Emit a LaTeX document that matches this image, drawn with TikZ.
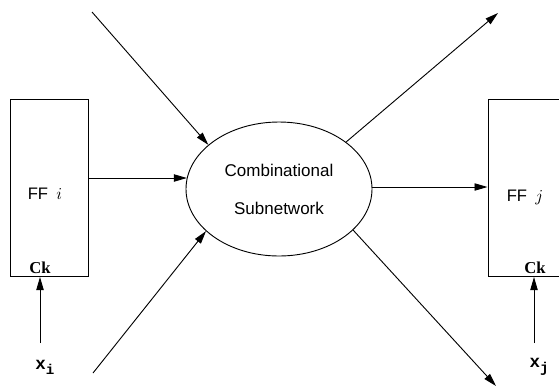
\documentclass[tikz,border=0pt]{standalone}
\usepackage{fontspec}
\setmainfont{Liberation Serif}
\setsansfont{Liberation Sans}
\setmonofont{Liberation Mono}
\usetikzlibrary{arrows.meta,shapes.geometric}
\newcommand{\insub}[1]{\raisebox{-3pt}{\fontsize{8.5}{9}\selectfont #1}}
\tikzset{
  arr/.style={-{Triangle[length=7.8pt,width=4.4pt]}, line width=0.55pt},
  ffbox/.style={draw, line width=0.6pt, minimum width=46.8pt, minimum height=106.2pt, inner sep=0pt},
  fflabel/.style={font=\fontsize{10}{12}\selectfont\sffamily, inner sep=0pt},
  cklabel/.style={font=\fontsize{10}{12}\selectfont\bfseries, inner sep=0pt, anchor=base},
  inlabel/.style={font=\fontsize{10.5}{12}\selectfont\ttfamily\bfseries, inner sep=0pt}
}
\begin{document}
\begin{tikzpicture}[x=0.6pt, y=-0.6pt]
			%%%%% FRAME %%%%%
			\clip (0, 0) rectangle (559, 386);
			
			%%%%% FLIP-FLOPS %%%%%
			\node[ffbox] (ffi) at (49, 187.5) {};
			\node[fflabel] (ffitext) at (45, 194) {FF\enspace$i$};
			\node[cklabel] (cki) at (40, 273) {Ck};
			
			\node[ffbox] (ffj) at (527, 188) {};
			\node[fflabel] (ffjtext) at (525, 197) {FF\enspace$j$};
			\node[cklabel] (ckj) at (535, 273) {Ck};
			
			%%%%% SUBNETWORK %%%%%
			\node[draw, ellipse, line width=0.55pt, minimum width=111.6pt, minimum height=80.4pt, inner sep=0pt,
			      align=center, font=\fontsize{10.2}{22.8}\selectfont\sffamily] (comb) at (279, 189)
			      {Combinational\\Subnetwork};
			
			%%%%% CLOCK INPUTS %%%%%
			\node[inlabel] (xi) at (45, 367) {x\insub{i}};
			\node[inlabel] (xj) at (539, 367) {x\insub{j}};
			\coordinate (ckiin) at (40, 343);
			\coordinate (ckjin) at (534, 343);
			\draw[arr] (ckiin) -- (40, 277);
			\draw[arr] (ckjin) -- (534, 277);
			
			%%%%% CONNECTIONS %%%%%
			\draw[arr] (ffi.east |- 0, 178) -- ([xshift=0.8pt]comb.west |- 0, 178);
			\draw[arr] (comb.east |- 0, 187) -- (ffj.west |- 0, 187);
			
			\coordinate (intop) at (92, 12);
			\coordinate (inbot) at (93, 373);
			\coordinate (outtop) at (498, 13);
			\coordinate (outbot) at (496, 386);
			\draw[arr] (intop) -- (comb.148);
			\draw[arr] (inbot) -- (comb.210);
			\draw[arr] (comb.35) -- (outtop);
			\draw[arr] (comb.-29) -- (outbot);
		\end{tikzpicture}
\end{document}
